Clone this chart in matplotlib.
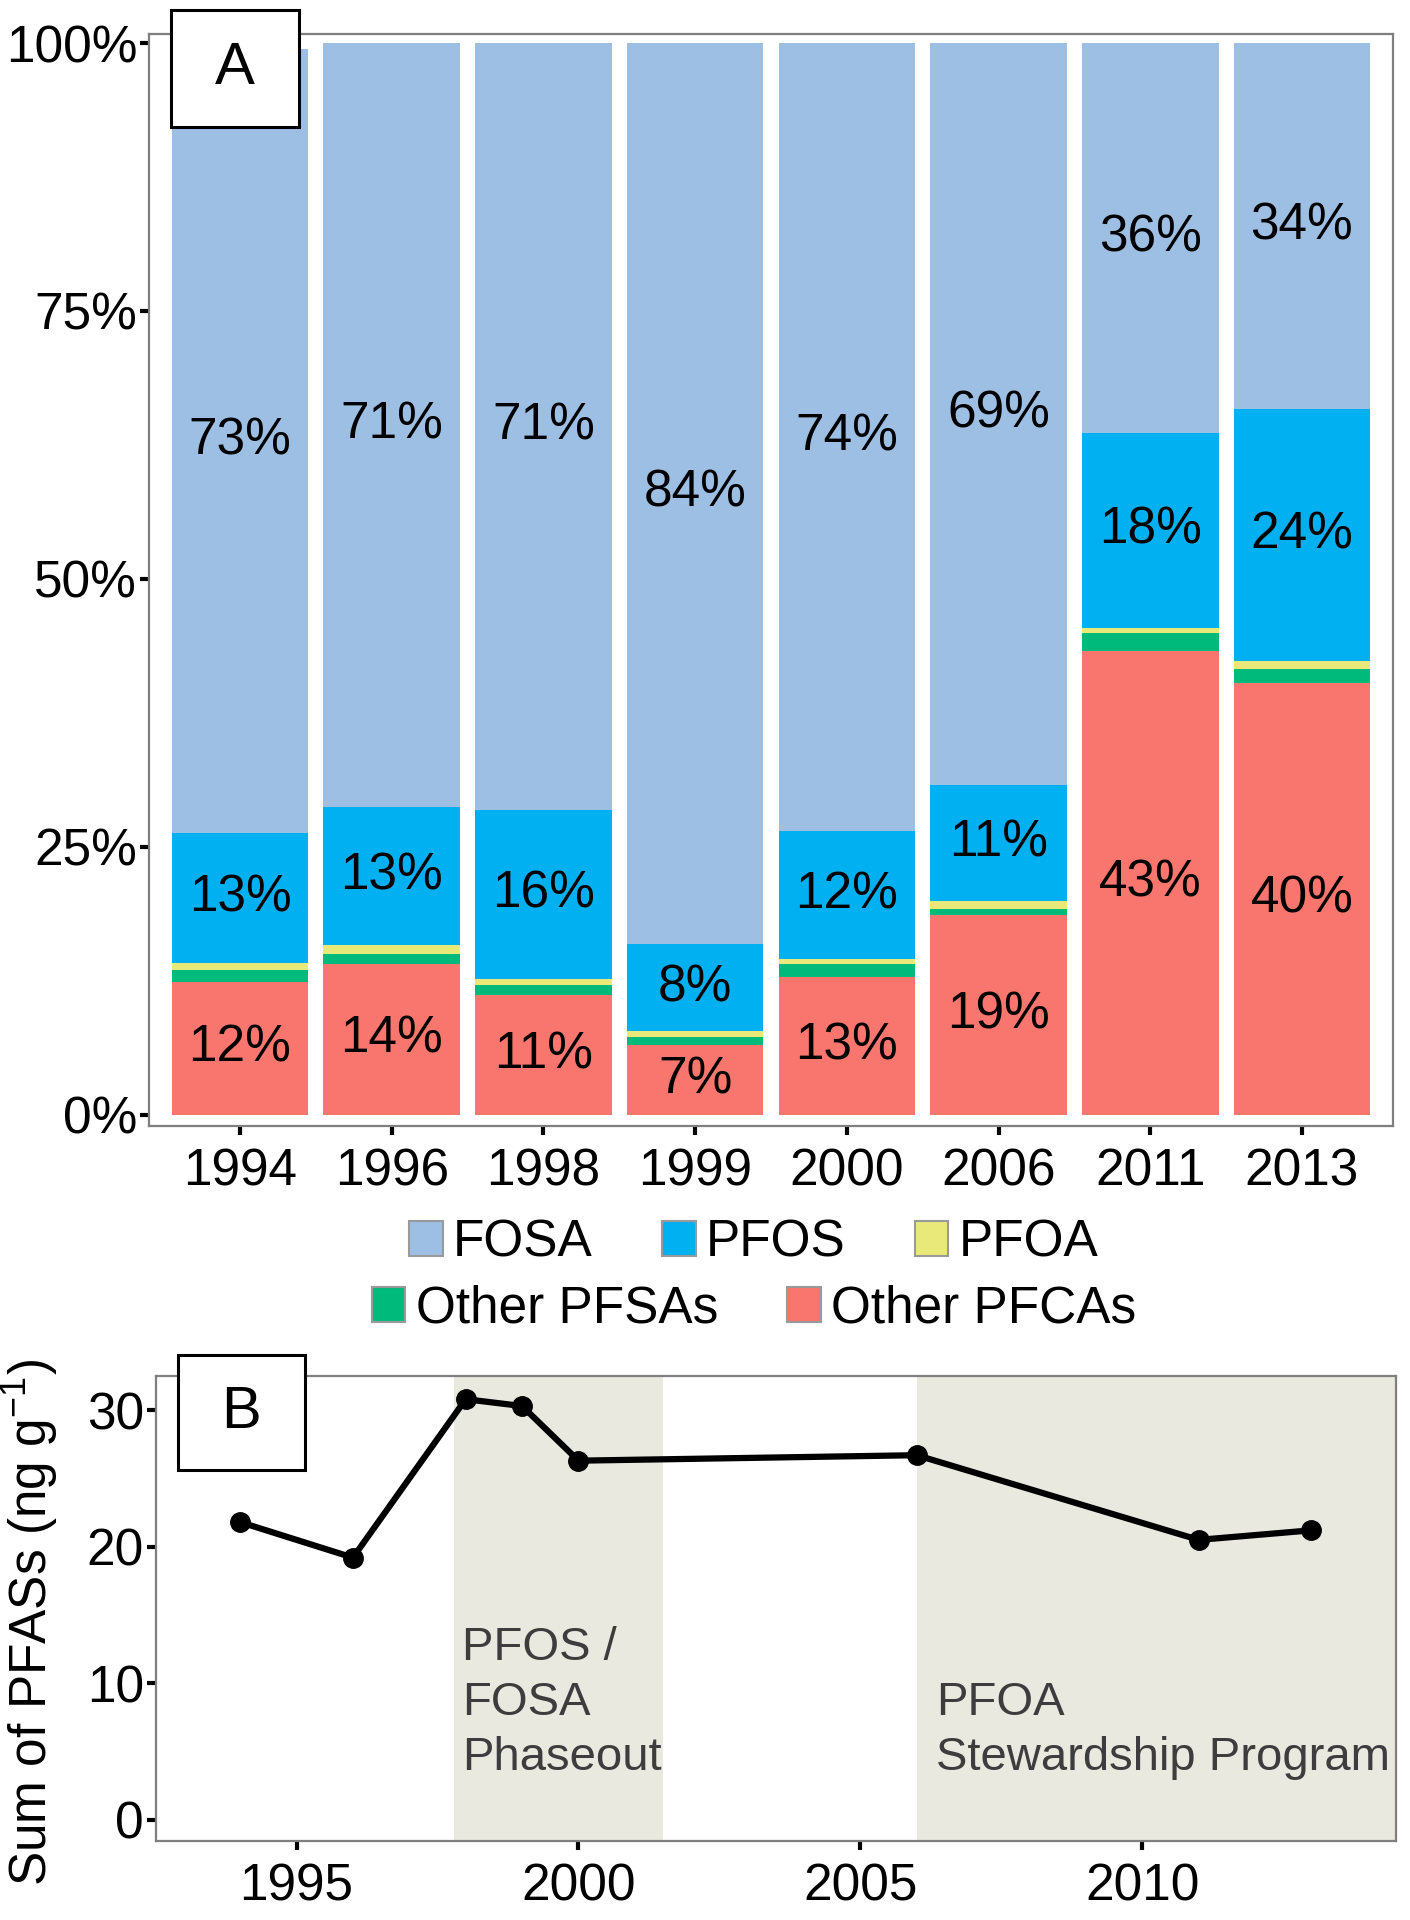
import matplotlib
matplotlib.use('Agg')
import matplotlib.pyplot as plt
from matplotlib.patches import Patch, Rectangle
import numpy as np

plt.rcParams['font.family'] = ['Liberation Sans', 'DejaVu Sans']
plt.rcParams['mathtext.fontset'] = 'custom'
plt.rcParams['mathtext.rm'] = 'Liberation Sans'
plt.rcParams['mathtext.it'] = 'Liberation Sans:italic'
plt.rcParams['mathtext.bf'] = 'Liberation Sans:bold'

# ---------------- data: panel A (percent composition) ----------------
years = ['1994', '1996', '1998', '1999', '2000', '2006', '2011', '2013']
other_pfcas = [12.4, 14.1, 11.2, 6.5, 12.9, 18.7, 43.3, 40.3]
other_pfsas = [1.1, 0.95, 0.95, 0.8, 1.2, 0.55, 1.7, 1.3]
pfoa = [0.7, 0.85, 0.55, 0.5, 0.45, 0.7, 0.4, 0.75]
pfos = [12.1, 12.85, 15.75, 8.15, 11.9, 10.8, 18.25, 23.5]
fosa = [73.1, 71.25, 71.55, 84.05, 73.55, 69.25, 36.35, 34.15]

fosa_lbl = ['73%', '71%', '71%', '84%', '74%', '69%', '36%', '34%']
pfos_lbl = ['13%', '13%', '16%', '8%', '12%', '11%', '18%', '24%']
pfcas_lbl = ['12%', '14%', '11%', '7%', '13%', '19%', '43%', '40%']

series_names = ['Other PFCAs', 'Other PFSAs', 'PFOA', 'PFOS', 'FOSA']
series_colors = ['#F8766D', '#00BA7C', '#E9E97A', '#00B0F0', '#9DBFE4']

yticks_a = [0, 25, 50, 75, 100]
yticklabels_a = ['0%', '25%', '50%', '75%', '100%']

# ---------------- data: panel B (sum of PFASs) ----------------
line_years = [1994, 1996, 1998, 1999, 2000, 2006, 2011, 2013]
sum_pfas = [21.8, 19.2, 30.8, 30.3, 26.3, 26.7, 20.5, 21.2]
shade_start = [1997.8, 2006.0]
shade_end = [2001.5, 2015.0]
shade_text = ['PFOS /\nFOSA\nPhaseout', 'PFOA\nStewardship Program']
shade_text_x = [1997.93, 2006.35]
xticks_b = [1995, 2000, 2005, 2010]
yticks_b = [0, 10, 20, 30]

W, H = 1410, 1920
fig = plt.figure(figsize=(W / 100, H / 100), dpi=100)

FS = 37
SPINE_C = '#7F7F7F'

def style_axes(ax):
    for s in ax.spines.values():
        s.set_color(SPINE_C)
        s.set_linewidth(1.6)
    ax.tick_params(axis='both', which='major', length=6.5, width=3,
                   color='black', labelsize=FS, labelcolor='black', direction='out')
    ax.tick_params(axis='y', pad=2)
    ax.tick_params(axis='x', pad=9)

# ---------------- panel A ----------------
ax1 = fig.add_axes([149 / W, 1 - 1126 / H, (1393 - 149) / W, (1126 - 34) / H])
x = np.arange(len(years))
stack = [other_pfcas, other_pfsas, pfoa, pfos, fosa]
bottom = np.zeros(len(years))
mids = []
for vals, c in zip(stack, series_colors):
    vals = np.array(vals)
    ax1.bar(x, vals, width=0.9, bottom=bottom, color=c, edgecolor='none', zorder=2)
    mids.append(bottom + vals / 2)
    bottom = bottom + vals

for lbls, mid in [(pfcas_lbl, mids[0]), (pfos_lbl, mids[3]), (fosa_lbl, mids[4])]:
    for xi, m, t in zip(x, mid, lbls):
        ax1.text(xi, m, t, ha='center', va='center', fontsize=FS, color='black', zorder=3)

ax1.set_xlim(-0.6, len(years) - 0.4)
ax1.set_ylim(-1.03, 100.84)
ax1.set_xticks(x)
ax1.set_xticklabels(years)
ax1.set_yticks(yticks_a)
ax1.set_yticklabels(yticklabels_a)
style_axes(ax1)

# ---------------- legend (two centred rows) ----------------
def make_handle(name):
    i = series_names.index(name)
    return Patch(facecolor=series_colors[i], edgecolor='#9A9A9A', linewidth=1.5)

row1 = ['FOSA', 'PFOS', 'PFOA']
row2 = ['Other PFSAs', 'Other PFCAs']
for row, ycen in [(row1, 1243), (row2, 1309)]:
    fig.legend([make_handle(n) for n in row], row, loc='center',
               bbox_to_anchor=(754 / W, 1 - ycen / H), ncol=len(row), frameon=False,
               fontsize=FS, handlelength=0.65, handleheight=0.65, handletextpad=0.2,
               columnspacing=1.35, borderpad=0, borderaxespad=0)

# ---------------- panel B ----------------
ax2 = fig.add_axes([155.6 / W, 1 - 1841 / H, (1396 - 155.6) / W, 465 / H])
for s0, s1 in zip(shade_start, shade_end):
    ax2.axvspan(s0, s1, color='#E9E9E0', zorder=0, lw=0)
for tx, t in zip(shade_text_x, shade_text):
    ax2.text(tx, 2.9, t, ha='left', va='bottom', fontsize=34, color='#3D3D3D',
             linespacing=1.33, zorder=1)
ax2.plot(line_years, sum_pfas, color='black', lw=4.5, marker='o', ms=14,
         solid_joinstyle='round', zorder=3)
ax2.set_xlim(1992.5, 2014.5)
ax2.set_ylim(-1.55, 32.5)
ax2.set_xticks(xticks_b)
ax2.set_yticks(yticks_b)
style_axes(ax2)
ax2.set_ylabel('Sum of PFASs (ng g$^{-1}$)', fontsize=FS, labelpad=0)
ax2.yaxis.set_label_coords((61 - 155.6) / (1396 - 155.6), 0.47)

# ---------------- panel letters ----------------
for (x0, y0, x1, y1, letter) in [(171, 10, 299, 127, 'A'), (178, 1355, 305, 1470, 'B')]:
    fig.add_artist(Rectangle((x0 / W, 1 - y1 / H), (x1 - x0) / W, (y1 - y0) / H,
                             transform=fig.transFigure, facecolor='white',
                             edgecolor='black', linewidth=2.2, zorder=10))
    fig.text((x0 + x1) / 2 / W, 1 - (y0 + y1) / 2 / H, letter, ha='center', va='center',
             fontsize=43, color='black', zorder=11)

fig.savefig('out.png', dpi=100)
